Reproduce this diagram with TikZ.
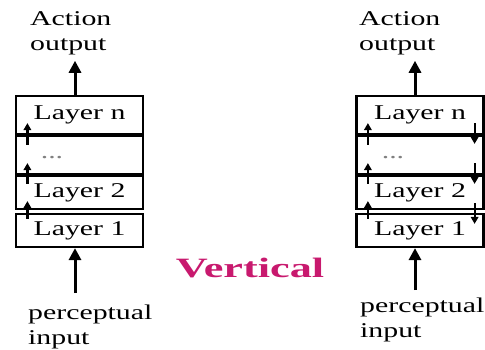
\documentclass[tikz,border=0pt]{standalone}
\usepackage{fontspec}
\setmainfont{Liberation Serif}
\usetikzlibrary{arrows.meta,calc}
\definecolor{vertcol}{RGB}{200,25,110}
\newcommand\sx[1]{\scalebox{1.42}[1]{#1}}
\tikzset{
  layerbox/.style={draw, line width=2.2pt, minimum width=127pt, inner sep=0pt,
    font=\fontsize{21}{25}\selectfont},
  lbl/.style={font=\fontsize{21}{25}\selectfont, align=left, inner sep=0pt},
  bigarrow/.style={line width=3pt, -{Triangle[width=12pt,length=12pt]}},
  smallarrow/.style={line width=2.2pt, -{Triangle[width=7.5pt,length=7pt]}},
}
\begin{document}
\begin{tikzpicture}[x=1pt,y=-1pt]
\useasboundingbox (0,0) rectangle (485,350);
% left stack
\node[layerbox, minimum height=38pt] (Ln) at (79.5,115) {\sx{Layer n}};
\node[layerbox, minimum height=38pt] (Ld) at (79.5,155) {};
\node[layerbox, minimum height=33pt] (L2) at (79.5,192.5) {\sx{Layer 2}};
\node[layerbox, minimum height=33pt] (L1) at (79.5,230.5) {\sx{Layer 1}};
\node[lbl, text=gray] (dotsL) at (52,158) {\sx{...}};
% right stack
\node[layerbox, minimum height=38pt] (Rn) at (420,115) {\sx{Layer n}};
\node[layerbox, minimum height=38pt] (Rd) at (420,155) {};
\node[layerbox, minimum height=33pt] (R2) at (420,192.5) {\sx{Layer 2}};
\node[layerbox, minimum height=33pt] (R1) at (420,230.5) {\sx{Layer 1}};
\node[lbl, text=gray] (dotsR) at (393,158) {\sx{...}};
% labels
\node[lbl, anchor=north west] (outL) at (30,11) {\sx{Action}\\\sx{output}};
\node[lbl, anchor=north west] (outR) at (359,11) {\sx{Action}\\\sx{output}};
\node[lbl, anchor=north west] (inL) at (28,305) {\sx{perceptual}\\\sx{input}};
\node[lbl, anchor=north west] (inR) at (360,298) {\sx{perceptual}\\\sx{input}};
\node[font=\fontsize{28}{30}\selectfont\bfseries, text=vertcol, inner sep=0pt] (vert) at (250,268) {\scalebox{1.58}[1]{Vertical}};
% main arrows
\draw[bigarrow] ([xshift=-4.5pt]Ln.north) -- ([xshift=-4.5pt,yshift=-6pt]Ln.north |- outL.south);
\draw[bigarrow] ([xshift=-4.5pt,yshift=12pt]L1.south |- inL.north) -- ([xshift=-4.5pt]L1.south);
\draw[bigarrow] ([xshift=-5pt]Rn.north) -- ([xshift=-5pt,yshift=-6pt]Rn.north |- outR.south);
\draw[bigarrow] ([xshift=-5pt,yshift=8pt]R1.south |- inR.north) -- ([xshift=-5pt]R1.south);
% small up arrows (left side)
\foreach \s in {L,R}{
  \draw[smallarrow] ([xshift=12.5pt,yshift=-10pt]\s d.north west) -- ([xshift=12.5pt,yshift=12pt]\s n.south west);
  \draw[smallarrow] ([xshift=12.5pt,yshift=-9pt]\s 2.north west) -- ([xshift=12.5pt,yshift=12pt]\s d.south west);
  \draw[smallarrow] ([xshift=12.5pt,yshift=-6pt]\s 1.north west) -- ([xshift=12.5pt,yshift=9pt]\s 2.south west);
}
% small down arrows (right stack, right side)
\draw[smallarrow] ([xshift=-10pt,yshift=12pt]Rn.south east) -- ([xshift=-10pt,yshift=-9pt]Rd.north east);
\draw[smallarrow] ([xshift=-10pt,yshift=12pt]Rd.south east) -- ([xshift=-10pt,yshift=-9pt]R2.north east);
\draw[smallarrow] ([xshift=-10pt,yshift=7pt]R2.south east) -- ([xshift=-10pt,yshift=-11pt]R1.north east);
\end{tikzpicture}
\end{document}
